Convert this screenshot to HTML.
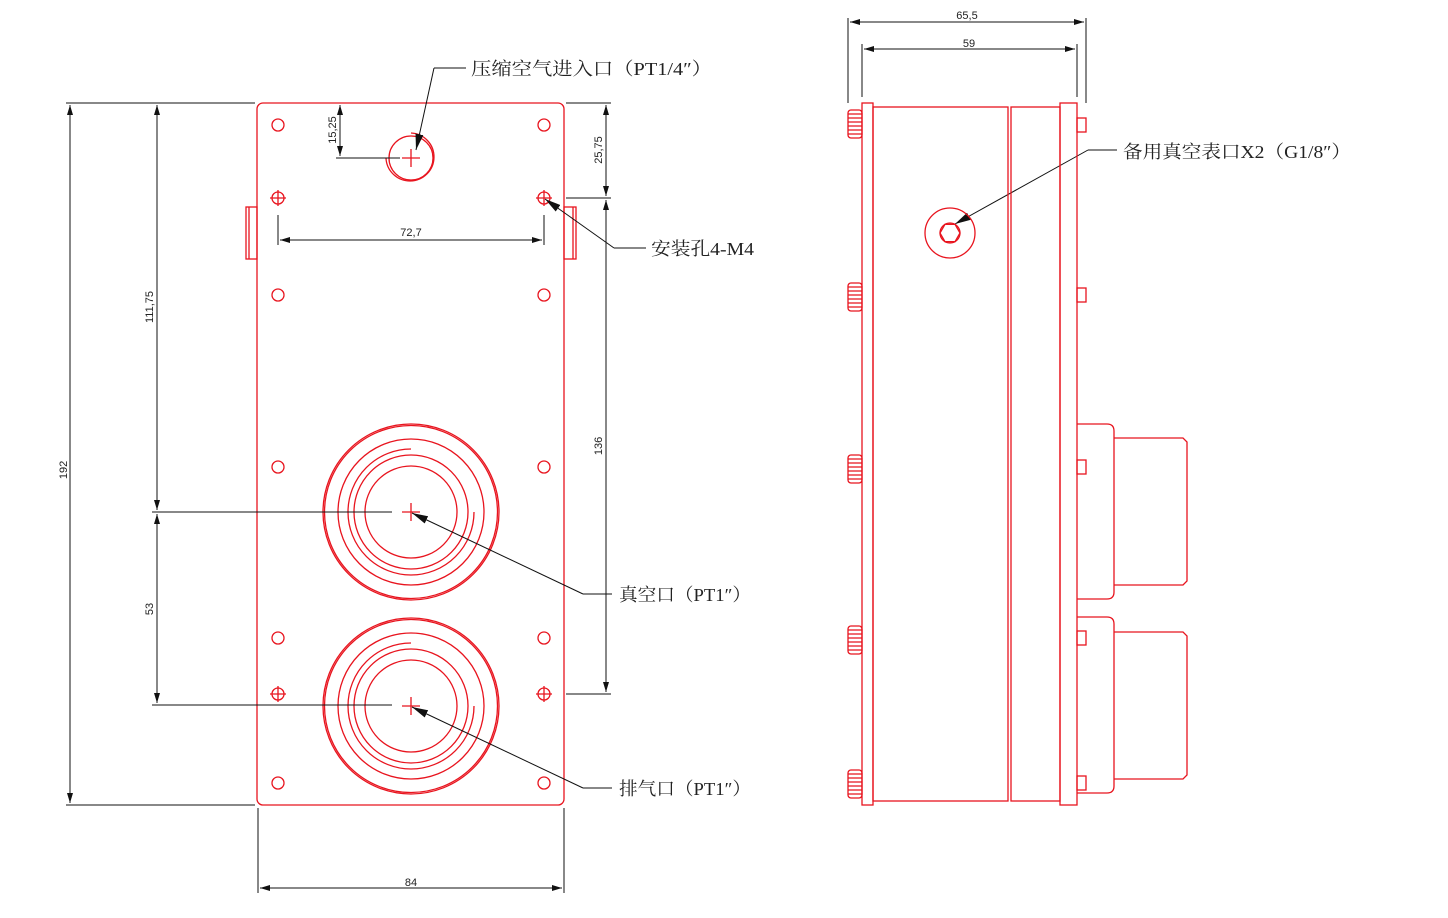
<!DOCTYPE html>
<html><head><meta charset="utf-8"><style>
html,body{margin:0;padding:0;background:#fff}
svg{display:block}
text{font-family:"Liberation Serif","Noto Serif CJK SC",serif;fill:#222}
.r{stroke:#e8141e;fill:none;stroke-width:1.3}
.k{stroke:#111;fill:none;stroke-width:1}
.d{font-family:"Liberation Sans",sans-serif;font-size:11px}
.l{font-size:18px}
</style></head><body>
<svg width="1448" height="918" viewBox="0 0 1448 918" xmlns="http://www.w3.org/2000/svg">
<defs>
<marker id="a" markerWidth="10" markerHeight="6" refX="10" refY="3" orient="auto" markerUnits="userSpaceOnUse"><path d="M0,0 L10,3 L0,6z" fill="#111"/></marker>
<marker id="b" markerWidth="10" markerHeight="6" refX="10" refY="3" orient="auto-start-reverse" markerUnits="userSpaceOnUse"><path d="M0,0 L10,3 L0,6z" fill="#111"/></marker>
<marker id="L" markerWidth="16" markerHeight="8" refX="16" refY="4" orient="auto" markerUnits="userSpaceOnUse"><path d="M0,0 L16,4 L0,8z" fill="#111"/></marker>
</defs>
<!-- LEFT VIEW -->
<rect class="r" x="257" y="103" width="307" height="702" rx="6"/>
<rect class="r" x="246" y="207" width="11" height="52"/><line class="r" x1="249" y1="207" x2="249" y2="259"/>
<rect class="r" x="564" y="207" width="12" height="52"/><line class="r" x1="573" y1="207" x2="573" y2="259"/>
<g class="r">
<circle cx="278" cy="125" r="6"/><circle cx="544" cy="125" r="6"/>
<circle cx="278" cy="198" r="6"/><circle cx="544" cy="198" r="6"/>
<circle cx="278" cy="295" r="6"/><circle cx="544" cy="295" r="6"/>
<circle cx="278" cy="467" r="6"/><circle cx="544" cy="467" r="6"/>
<circle cx="278" cy="638" r="6"/><circle cx="544" cy="638" r="6"/>
<circle cx="278" cy="694" r="6"/><circle cx="544" cy="694" r="6"/>
<circle cx="278" cy="783" r="6"/><circle cx="544" cy="783" r="6"/>
<path d="M270,198h16M278,190v16M536,198h16M544,190v16M270,694h16M278,686v16M536,694h16M544,686v16"/>
<circle cx="411" cy="158" r="22"/><path d="M411,133 A24,24 0 1 1 386,158"/>
<path d="M402,158h18M411,149v18"/>
<circle cx="411" cy="512" r="88"/><circle cx="411" cy="512" r="86.5"/><circle cx="411" cy="512" r="73"/>
<path d="M411,449 A63,63 0 1 0 474,512" /><circle cx="411" cy="512" r="57"/><circle cx="411" cy="512" r="46"/>
<path d="M402,512h18M411,503v18"/>
<circle cx="411" cy="706" r="88"/><circle cx="411" cy="706" r="86.5"/><circle cx="411" cy="706" r="73"/>
<path d="M411,643 A63,63 0 1 0 474,706" /><circle cx="411" cy="706" r="57"/><circle cx="411" cy="706" r="46"/>
<path d="M402,706h18M411,697v18"/>
</g>
<!-- dims left -->
<g class="k">
<path d="M66,103H255M66,805H255"/>
<line x1="70" y1="105" x2="70" y2="803" marker-start="url(#b)" marker-end="url(#a)"/>
<path d="M152,512H392M152,705H392"/>
<line x1="157" y1="105" x2="157" y2="510" marker-start="url(#b)" marker-end="url(#a)"/>
<line x1="157" y1="514" x2="157" y2="703" marker-start="url(#b)" marker-end="url(#a)"/>
<path d="M336,158H400"/>
<line x1="340" y1="105" x2="340" y2="156" marker-start="url(#b)" marker-end="url(#a)"/>
<path d="M566,103H611M566,198H611M566,694H611"/>
<line x1="606" y1="105" x2="606" y2="196" marker-start="url(#b)" marker-end="url(#a)"/>
<line x1="606" y1="200" x2="606" y2="692" marker-start="url(#b)" marker-end="url(#a)"/>
<path d="M278,215V245M544,215V245"/>
<line x1="280" y1="240" x2="542" y2="240" marker-start="url(#b)" marker-end="url(#a)"/>
<path d="M258,808V893M564,808V893"/>
<line x1="260" y1="888" x2="562" y2="888" marker-start="url(#b)" marker-end="url(#a)"/>
</g>
<text class="d" transform="translate(67,470) rotate(-90)" text-anchor="middle">192</text>
<text class="d" transform="translate(153,307) rotate(-90)" text-anchor="middle">111,75</text>
<text class="d" transform="translate(153,609) rotate(-90)" text-anchor="middle">53</text>
<text class="d" transform="translate(336,130) rotate(-90)" text-anchor="middle">15,25</text>
<text class="d" transform="translate(602,150) rotate(-90)" text-anchor="middle">25,75</text>
<text class="d" transform="translate(602,446) rotate(-90)" text-anchor="middle">136</text>
<text class="d" x="411" y="236" text-anchor="middle">72,7</text>
<text class="d" x="411" y="886" text-anchor="middle">84</text>
<!-- leaders -->
<g class="k" stroke-width="0.9">
<path d="M466,68H434"/><line x1="434" y1="68" x2="416" y2="150" marker-end="url(#L)"/>
<path d="M646,248H614"/><line x1="614" y1="248" x2="545" y2="199" marker-end="url(#L)"/>
<path d="M612,594H583"/><line x1="583" y1="594" x2="412" y2="513" marker-end="url(#L)"/>
<path d="M612,788H583"/><line x1="583" y1="788" x2="412" y2="707" marker-end="url(#L)"/>
<path d="M1117,150H1088"/><line x1="1088" y1="150" x2="955" y2="224" marker-end="url(#L)"/>
</g>
<text class="l" x="471" y="75" textLength="241" lengthAdjust="spacingAndGlyphs">压缩空气进入口（PT1/4″）</text>
<text class="l" x="651" y="255" textLength="103" lengthAdjust="spacingAndGlyphs">安装孔4-M4</text>
<text class="l" x="619" y="601" textLength="132" lengthAdjust="spacingAndGlyphs">真空口（PT1″）</text>
<text class="l" x="619" y="795" textLength="132" lengthAdjust="spacingAndGlyphs">排气口（PT1″）</text>
<text class="l" x="1123" y="158" textLength="228" lengthAdjust="spacingAndGlyphs">备用真空表口X2（G1/8″）</text>
<!-- RIGHT VIEW -->
<g class="r">
<rect x="862" y="103" width="11" height="702"/>
<rect x="873" y="107" width="135" height="694"/>
<rect x="1011" y="107" width="49" height="694"/>
<rect x="1060" y="103" width="17" height="702"/>
<rect x="1077" y="118" width="9" height="14"/><rect x="1077" y="288" width="9" height="14"/>
<rect x="1077" y="460" width="9" height="14"/><rect x="1077" y="631" width="9" height="14"/>
<rect x="1077" y="776" width="9" height="14"/>
<path d="M1077,424H1107Q1114,424 1114,431V592Q1114,599 1107,599H1077"/>
<path d="M1114,438H1183L1187,442V581L1183,585H1114"/>
<path d="M1077,617H1107Q1114,617 1114,624V786Q1114,793 1107,793H1077"/>
<path d="M1114,632H1183L1187,636V775L1183,779H1114"/>
<circle cx="950" cy="233" r="25"/>
<polygon points="960,233 955,241.7 945,241.7 940,233 945,224.3 955,224.3"/>
<circle cx="950" cy="233" r="10"/>
</g>
<g class="r" stroke-width="1">
<g id="s"><rect x="848" y="110" width="14" height="28" rx="3"/><path d="M848,114h14M848,118h14M848,122h14M848,126h14M848,130h14M848,134h14"/></g>
<use href="#s" y="173"/><use href="#s" y="345"/><use href="#s" y="516"/><use href="#s" y="660"/>
</g>
<g class="k">
<path d="M848,18V103M1086,18V103M862,44V97M1077,44V97"/>
<line x1="850" y1="22" x2="1084" y2="22" marker-start="url(#b)" marker-end="url(#a)"/>
<line x1="864" y1="49" x2="1075" y2="49" marker-start="url(#b)" marker-end="url(#a)"/>
</g>
<text class="d" x="967" y="19" text-anchor="middle">65,5</text>
<text class="d" x="969" y="47" text-anchor="middle">59</text>
</svg>
</body></html>
